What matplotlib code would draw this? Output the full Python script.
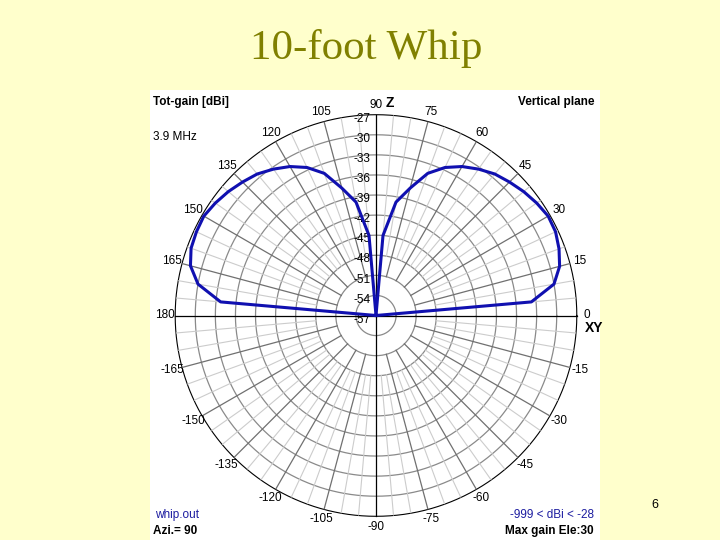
import numpy as np
import matplotlib.pyplot as plt

# Elevation angle (deg) and total gain (dBi)
elevation = [0, 5, 10, 15, 20, 25, 30, 35, 40, 45, 50, 55, 60, 65, 70, 75, 80, 85, 90,
             95, 100, 105, 110, 115, 120, 125, 130, 135, 140, 145, 150, 155, 160, 165, 170, 175, 180]
gain = [-999, -33.7, -30.0, -28.6, -27.9, -27.4, -27.3, -27.7, -28.2, -28.8, -29.4, -30.3,
        -31.3, -32.6, -34.4, -37.3, -39.8, -45.0, -999,
        -45.0, -39.8, -37.3, -34.4, -32.6, -31.3, -30.3, -29.4, -28.8, -28.2, -27.7, -27.3,
        -27.4, -27.6, -28.3, -30.0, -33.7, -999]

ring_levels = [-27, -30, -33, -36, -39, -42, -45, -48, -51, -54, -57]
angle_labels = [0, 15, 30, 45, 60, 75, 90, 105, 120, 135, 150, 165, 180,
                -165, -150, -135, -120, -105, -90, -75, -60, -45, -30, -15]

r_min, r_max = -57, -27

fig = plt.figure(figsize=(7.2, 5.4), dpi=100)
fig.patch.set_facecolor("#FFFFCC")

fig.text(0.508, 0.91, "10-foot Whip", family="Liberation Serif", fontsize=31,
         color="#808000", ha="center", va="center")
fig.text(0.91, 0.065, "6", family="Liberation Sans", fontsize=9, ha="center", va="center")

# white panel of the embedded MMANA picture, in pixel coordinates
bg = fig.add_axes([150 / 720, 0, 450 / 720, 450 / 540])
bg.set_xlim(150, 600)
bg.set_ylim(540, 90)
bg.set_facecolor("white")
bg.set_xticks([])
bg.set_yticks([])
for s in bg.spines.values():
    s.set_visible(False)

small = dict(family="Liberation Sans", fontsize=8.5)
bg.text(153, 102, "Tot-gain [dBi]", fontweight="bold", ha="left", va="center", **small)
bg.text(153, 137, "3.9 MHz", ha="left", va="center", **small)
bg.text(594, 102, "Vertical plane", fontweight="bold", ha="right", va="center", **small)
bg.text(155, 515, "whip.out", color="#1C1CA0", ha="left", va="center", **small)
bg.text(153, 531, "Azi.= 90", fontweight="bold", ha="left", va="center", **small)
bg.text(594, 515, "-999 < dBi < -28", color="#1C1CA0", ha="right", va="center", **small)
bg.text(594, 531, "Max gain Ele:30", fontweight="bold", ha="right", va="center", **small)

# polar axes: centre (376, 315.5) px, radius 200.8 px
R = 200.8
ax = fig.add_axes([(376 - R) / 720, (540 - 315.5 - R) / 540, 2 * R / 720, 2 * R / 540],
                  projection="polar")
ax.patch.set_alpha(0)
ax.set_ylim(r_min, r_max)
ax.grid(False)
ax.set_xticks([])
ax.set_yticks([])
ax.spines["polar"].set_visible(False)

th = np.linspace(0, 2 * np.pi, 721)
for lev in ring_levels[1:-1]:
    ax.plot(th, np.full_like(th, lev), color="#8a8a8a", lw=0.9)
ax.plot(th, np.full_like(th, r_max), color="black", lw=0.8, clip_on=False)

for a in range(0, 360, 5):
    t = np.deg2rad(a)
    if a % 90 == 0:
        continue
    if a % 15 == 0:
        ax.plot([t, t], [-51, r_max], color="#707070", lw=0.9)
    else:
        ax.plot([t, t], [-48, r_max], color="#cccccc", lw=0.8)

for a in (0, 90, 180, 270):
    t = np.deg2rad(a)
    ax.plot([t, t], [r_min, r_max], color="black", lw=0.9, clip_on=False)

# pattern
g = np.clip(np.array(gain, dtype=float), r_min, None)
ax.plot(np.deg2rad(elevation), g, color="#1010B0", lw=2.2, zorder=5)

# angle labels round the rim
r_lab = r_min + 211 / R * (r_max - r_min)
for a in angle_labels:
    ax.text(np.deg2rad(a), r_lab, str(a), ha="center", va="center", **small)
ax.annotate("Z", xy=(np.pi / 2, r_lab), xytext=(10, 1), textcoords="offset points",
            ha="center", va="center", fontweight="bold", family="Liberation Sans",
            fontsize=10, annotation_clip=False)
ax.annotate("XY", xy=(0, r_lab), xytext=(5, -9), textcoords="offset points",
            ha="center", va="center", fontweight="bold", family="Liberation Sans",
            fontsize=10, annotation_clip=False)

# ring labels along the vertical axis
for lev in ring_levels:
    ax.annotate(str(lev), xy=(np.pi / 2, lev), xytext=(-10, -3), textcoords="offset points",
                ha="center", va="center", annotation_clip=False, **small)

fig.savefig("out.png", dpi=100, facecolor=fig.get_facecolor())
